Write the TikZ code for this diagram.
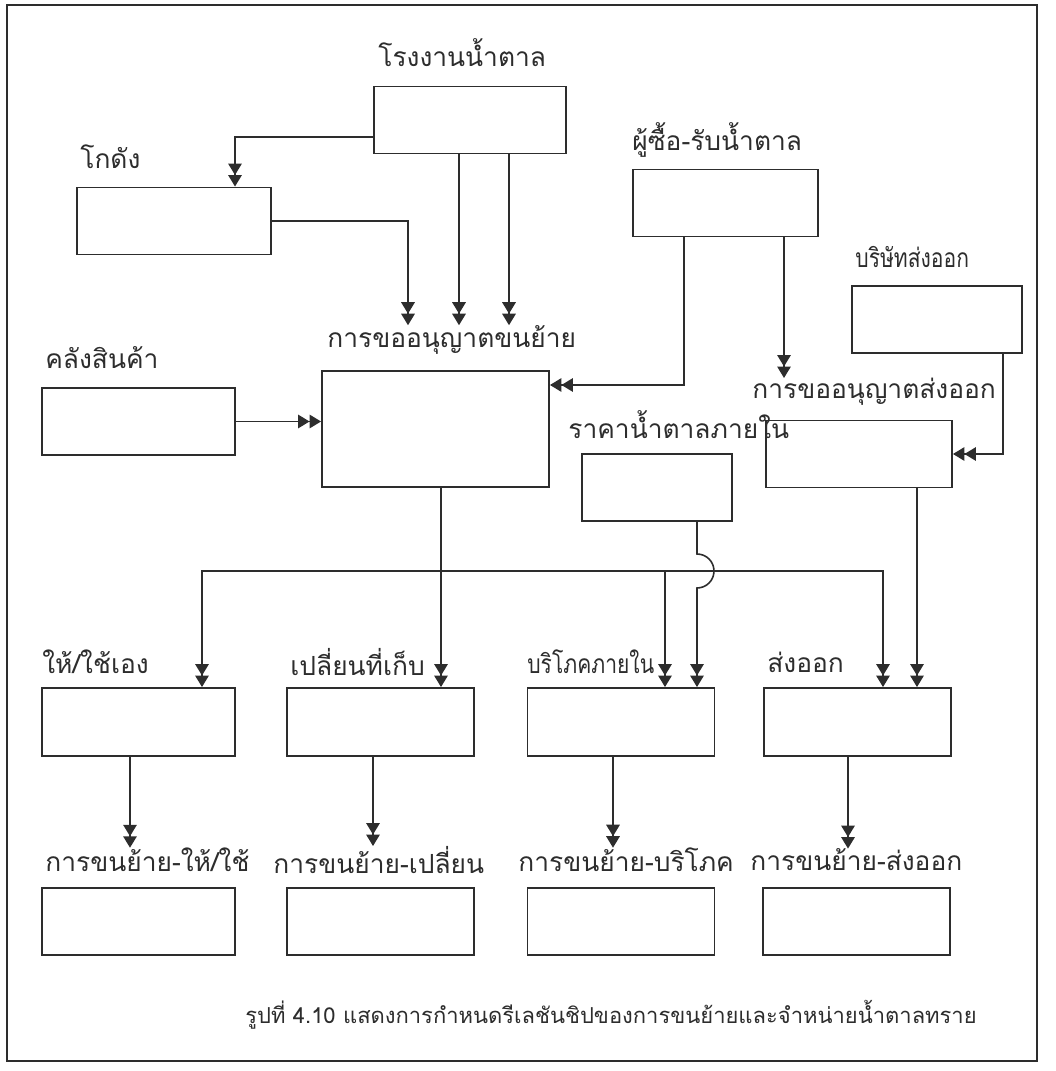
\documentclass[tikz,border=0pt]{standalone}
\usepackage{fontspec}
\setmainfont[Script=Thai]{Loma}
\newfontfamily\thainarrow[Script=Thai,FakeStretch=0.8]{Loma}
\usetikzlibrary{arrows.meta}
\definecolor{inkgray}{RGB}{45,45,45}

\begin{document}
\begin{tikzpicture}[x=0.02cm,y=-0.02cm]
  \tikzstyle{box}=[draw=inkgray,line width=1.1pt,minimum width=3.74cm,minimum height=1.34cm,inner sep=0pt]
  \tikzstyle{lab}=[anchor=west,inner sep=0pt,text=inkgray,font=\fontsize{15}{18}\selectfont]
  \tikzstyle{tightlab}=[lab,font=\thainarrow\fontsize{15}{18}\selectfont]
  \tikzstyle{f}=[-{Triangle[length=2.3mm,width=2.7mm]Triangle[length=2.3mm,width=2.7mm]},inkgray,line width=0.9pt]

  \useasboundingbox (0,0) rectangle (1055,1071);
  \draw[inkgray,line width=1.1pt] (7,5) rectangle (1037,1061);

  % sources
  \node[box,minimum width=3.84cm] (fac) at (470,120) {};
  \node[lab] (lfac) at (378,53) {โรงงานน้ำตาล};
  \node[box,minimum width=3.88cm] (wh) at (174,221) {};
  \node[lab] (lwh) at (80,157) {โกดัง};
  \node[box,minimum width=3.7cm] (buy) at (725.5,203) {};
  \node[lab] (lbuy) at (632,140) {ผู้ซื้อ-รับน้ำตาล};
  \node[box,minimum width=3.4cm] (expco) at (937,319.5) {};
  \node[tightlab] (lexpco) at (855,257) {บริษัทส่งออก};
  \node[box,minimum width=3.86cm] (store) at (138.5,421.5) {};
  \node[lab] (lstore) at (45,358) {คลังสินค้า};

  % permits
  \node[box,minimum width=4.54cm,minimum height=2.32cm] (perm) at (435.5,429) {};
  \node[lab] (lperm) at (327,340) {การขออนุญาตขนย้าย};
  \node[box,minimum width=3.72cm] (expperm) at (859,454) {};
  \node[lab] (lexpperm) at (752,392) {การขออนุญาตส่งออก};
  \node[box,minimum width=3cm] (price) at (657,487.5) {};
  \node[lab] (lprice) at (568,425) {ราคาน้ำตาลภายใน};

  % row 1
  \node[box,minimum width=3.86cm,minimum height=1.36cm] (r1a) at (138.5,722) {};
  \node[lab] (l1a) at (42,662) {ให้/ใช้เอง};
  \node[box,minimum height=1.36cm] (r1b) at (380.5,722) {};
  \node[lab] (l1b) at (290,662) {เปลี่ยนที่เก็บ};
  \node[box,minimum height=1.36cm] (r1c) at (621,722) {};
  \node[tightlab] (l1c) at (527,662) {บริโภคภายใน};
  \node[box,minimum height=1.36cm] (r1d) at (857.5,722) {};
  \node[lab] (l1d) at (767,662) {ส่งออก};

  % row 2
  \node[box,minimum width=3.86cm] (r2a) at (138.5,921.5) {};
  \node[lab] (l2a) at (45,860) {การขนย้าย-ให้/ใช้};
  \node[box] (r2b) at (380.5,921.5) {};
  \node[lab] (l2b) at (273,860) {การขนย้าย-เปลี่ยน};
  \node[box] (r2c) at (621,921.5) {};
  \node[lab] (l2c) at (518,860) {การขนย้าย-บริโภค};
  \node[box] (r2d) at (856.5,921.5) {};
  \node[lab] (l2d) at (750,860) {การขนย้าย-ส่งออก};

  \node[lab,font=\fontsize{12.5}{15}\selectfont] (cap) at (245,1015)
    {รูปที่ 4.10 แสดงการกำหนดรีเลชันชิปของการขนย้ายและจำหน่ายน้ำตาลทราย};

  % into the transport permit
  \draw[f] (fac.west |- 0,137) -| (wh.north -| 235,0);
  \draw[f] (wh.east) -| (lperm.north -| 408,0);
  \draw[f] (fac.south -| 459,0) -- (lperm.north -| 459,0);
  \draw[f] (fac.south -| 509,0) -- (lperm.north -| 509,0);
  \draw[f] (store.east) -- (perm.west |- store.east);
  \draw[f] (buy.south -| 684,0) |- (perm.east |- 0,385);

  % into the export permit
  \draw[f] (buy.south -| 784,0) -- (lexpperm.north -| 784,0);
  \draw[f] (expco.south -| 1003,0) |- (expperm.east);

  % out of the transport permit
  \coordinate (bus) at (441,571);
  \draw[f] (perm.south -| 441,0) -- (r1b.north -| 441,0);
  \draw[f] (bus) -| (r1a.north -| 202,0);
  \draw[f] (bus) -| (r1d.north -| 883,0);
  \draw[f] (bus -| 665,0) -- (r1c.north -| 665,0);

  % price line jumps over the bus
  \draw[f] (price.south -| 697,0) -- (697,554) arc[start angle=90,end angle=-90,radius=0.34cm]
    -- (r1c.north -| 697,0);
  \draw[f] (expperm.south -| 917,0) -- (r1d.north -| 917,0);

  % down to the transport records
  \draw[f] (r1a.south -| 130,0) -- (l2a.north -| 130,0);
  \draw[f] (r1b.south -| 373,0) -- (l2b.north -| 373,0);
  \draw[f] (r1c.south -| 613,0) -- (l2c.north -| 613,0);
  \draw[f] (r1d.south -| 848,0) -- (l2d.north -| 848,0);
\end{tikzpicture}
\end{document}
